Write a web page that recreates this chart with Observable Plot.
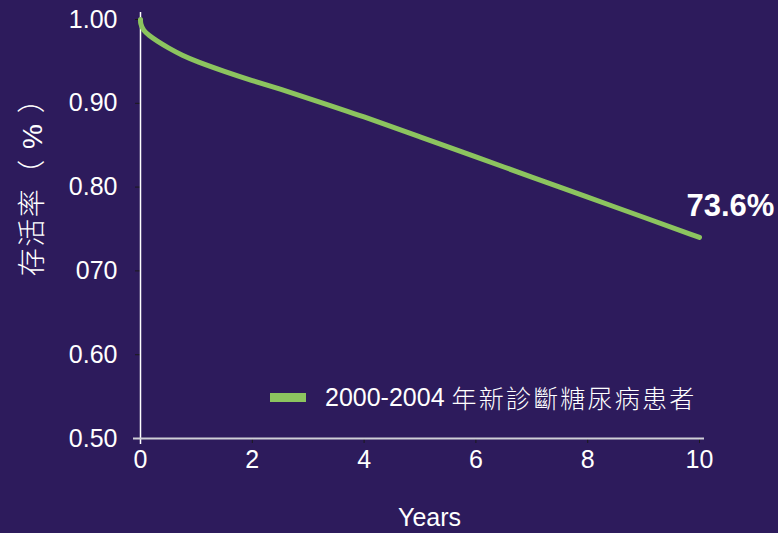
<!DOCTYPE html>
<html><head><meta charset="utf-8">
<script src="https://cdn.jsdelivr.net/npm/d3@7"></script>
<script src="https://cdn.jsdelivr.net/npm/@observablehq/plot@0.6"></script>
<style>
html,body{margin:0;padding:0;background:#2d1b5c;}
#wrap{position:relative;width:778px;height:533px;overflow:hidden;background:#2d1b5c;font-family:"Liberation Sans",Arial,"Noto Sans CJK TC",sans-serif;}
#wrap svg{position:absolute;left:0;top:0;}
.ov{position:absolute;color:#fff;white-space:nowrap;}
#legend{left:270px;top:379px;font-size:25px;display:flex;align-items:center;}
#legend .sw{width:36px;height:9px;background:#8cc45f;margin-right:19px;}
#legend .cjk{letter-spacing:2.2px;margin-left:7px;font-weight:300;}
#xlab{left:398px;top:503px;font-size:25px;}
#ylab{left:30px;top:180px;font-size:28px;letter-spacing:1.5px;font-weight:300;transform:translate(-50%,-50%) rotate(-90deg);}
</style></head><body><div id="wrap"></div>
<script>
// data
const years    = [0, 0.0, 0.05, 0.15, 0.3, 0.5, 0.75, 1.0, 1.5, 2, 2.5, 3, 4, 5, 6, 7, 8, 9, 10];
const survival = [1.0, 0.995, 0.987, 0.981, 0.974, 0.966, 0.957, 0.950, 0.938, 0.927, 0.917, 0.906, 0.884, 0.860, 0.836, 0.812, 0.788, 0.764, 0.740];
const yTicks = [0.5, 0.6, 0.7, 0.8, 0.9, 1.0];
const yTickLabels = ["0.50", "0.60", "070", "0.80", "0.90", "1.00"];
const xTicks = [0, 2, 4, 6, 8, 10];
const seriesYears = "2000-2004";
const seriesDesc = "年新診斷糖尿病患者";
const endLabel = "73.6%";
const xTitle = "Years";
const yTitle = "存活率（ % ）";

const rows = years.map((y, i) => ({year: y, s: survival[i]}));
const last = rows[rows.length - 1];

const chart = Plot.plot({
  width: 778, height: 533,
  marginLeft: 140, marginRight: 79, marginTop: 19, marginBottom: 95,
  style: {background: "transparent", color: "#fff", fontFamily: "'Liberation Sans', Arial, 'Noto Sans CJK TC', sans-serif", fontSize: "25px"},
  x: {domain: [0, 10]},
  y: {domain: [0.5, 1.0]},
  marks: [
    Plot.axisY(yTicks, {tickSize: 5, stroke: "#1a1a1a", tickPadding: 18, tickFormat: (d) => yTickLabels[yTicks.indexOf(d)], fill: "#fff", fontSize: 25, label: null}),
    Plot.axisX(xTicks, {tickSize: 5, stroke: "#1a1a1a", tickPadding: 7, fill: "#fff", fontSize: 25, label: null}),
    Plot.ruleX([0], {stroke: "#ffffff", strokeWidth: 1.5, insetTop: -7, insetBottom: -6}),
    Plot.ruleY([0.5], {stroke: "#cfcfd6", strokeWidth: 2, insetLeft: -7, insetRight: -5}),
    Plot.line(rows, {x: "year", y: "s", stroke: "#8cc45f", strokeWidth: 5, curve: "basis"}),
    Plot.text([last], {x: "year", y: "s", text: () => endLabel, dx: -13, dy: -31, textAnchor: "start", fill: "#fff", fontWeight: "bold", fontSize: 31})
  ]
});
const wrap = document.getElementById("wrap");
wrap.appendChild(chart);
const lg = document.createElement("div");
lg.id = "legend"; lg.className = "ov";
lg.innerHTML = '<span class="sw"></span><span class="num"></span><span class="cjk"></span>';
lg.querySelector(".num").textContent = seriesYears;
lg.querySelector(".cjk").textContent = seriesDesc;
wrap.appendChild(lg);
const xl = document.createElement("div"); xl.id = "xlab"; xl.className = "ov"; xl.textContent = xTitle; wrap.appendChild(xl);
const yl = document.createElement("div"); yl.id = "ylab"; yl.className = "ov"; yl.textContent = yTitle; wrap.appendChild(yl);
</script></body></html>
